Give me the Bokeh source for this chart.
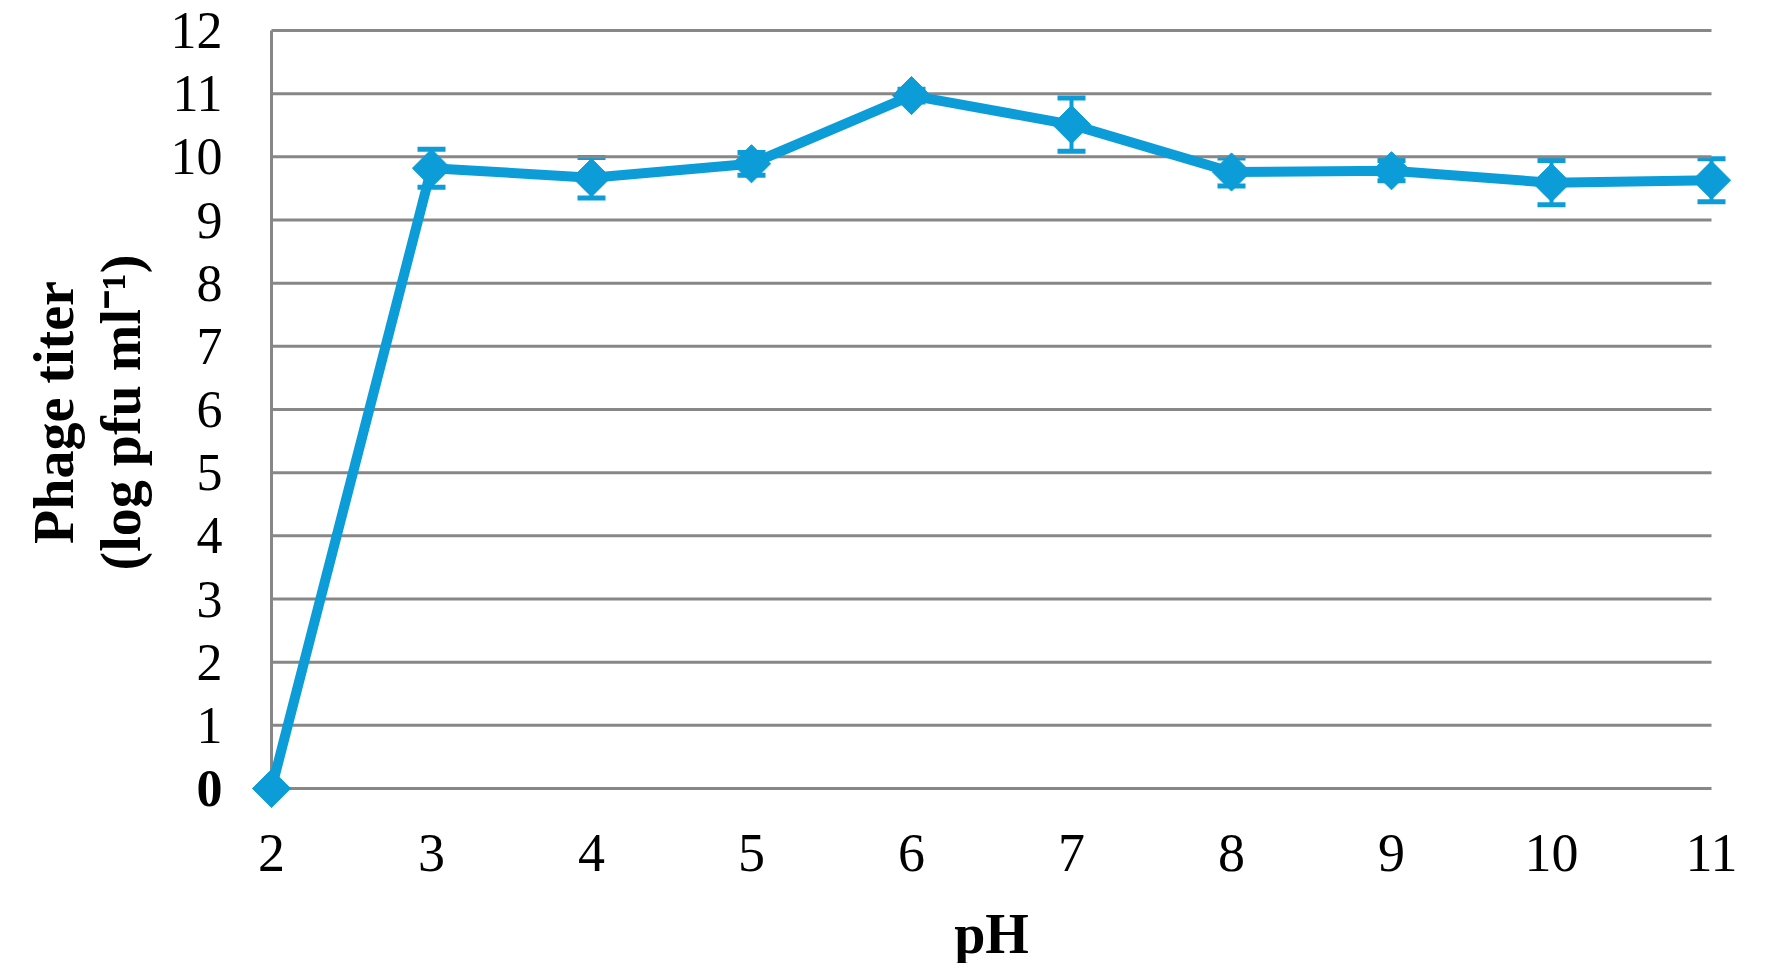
from bokeh.plotting import figure
from bokeh.models import Range1d, ColumnDataSource, Whisker, TeeHead
from bokeh.core.properties import value
from bokeh.embed import file_html
from bokeh.resources import INLINE
import numpy as np

# ---- data ----
ph = [2, 3, 4, 5, 6, 7, 8, 9, 10, 11]
titer = [0.0, 9.82, 9.67, 9.89, 10.97, 10.51, 9.76, 9.78, 9.59, 9.63]
err = [0.0, 0.30, 0.32, 0.18, 0.10, 0.42, 0.22, 0.16, 0.35, 0.34]
y_ticks = list(range(0, 13))
y_tick_labels = [str(v) for v in y_ticks]
x_ticks = ph
x_tick_labels = [str(v) for v in x_ticks]
x_title = "pH"
y_title_1 = "Phage titer"
y_title_2 = "(log pfu ml\u207b\u00b9)"

BLUE = "#0C9DD8"
GRID = "#878787"
FONT = "Liberation Serif"

src = ColumnDataSource(dict(
    x=ph, y=titer,
    upper=[t + e for t, e in zip(titer, err)],
    lower=[t - e for t, e in zip(titer, err)],
))

# frame covers the whole figure; x=2 -> 271px, x=11 -> 1711px, y=12 -> 30px, y=0 -> 788px
W, H = 1756, 963
px_x = (1711 - 271) / (max(ph) - min(ph))
px_y = (788 - 30) / (max(y_ticks) - min(y_ticks))
x_range = Range1d(min(ph) - 271 / px_x, max(ph) + (W - 1711) / px_x)
y_range = Range1d(min(y_ticks) - (H - 788) / px_y, max(y_ticks) + 30 / px_y)

p = figure(width=W, height=H, x_range=x_range, y_range=y_range,
           output_backend="svg", toolbar_location=None,
           x_axis_location=None, y_axis_location=None, min_border=0)
p.outline_line_color = None
p.grid.visible = False
p.background_fill_color = "white"

# grid lines (only across the data span)
p.segment(x0=[min(ph)] * len(y_ticks), y0=y_ticks, x1=[max(ph)] * len(y_ticks), y1=y_ticks,
          line_color=GRID, line_width=3)
# vertical axis line
p.segment(x0=[min(ph)], y0=[min(y_ticks)], x1=[min(ph)], y1=[max(y_ticks)],
          line_color=GRID, line_width=3)

# y tick labels (0 is bold in the original)
p.text(x=[min(ph)] * (len(y_ticks) - 1), y=y_ticks[1:], text=y_tick_labels[1:],
       x_offset=-49, text_align="right", text_baseline="middle",
       text_font=value(FONT), text_font_size="52px", text_color="black")
p.text(x=[min(ph)], y=y_ticks[:1], text=y_tick_labels[:1],
       x_offset=-49, text_align="right", text_baseline="middle",
       text_font=value(FONT), text_font_size="52px", text_font_style="bold",
       text_color="black")

# x tick labels
p.text(x=x_ticks, y=[min(y_ticks)] * len(x_ticks), text=x_tick_labels,
       y_offset=64, text_align="center", text_baseline="middle",
       text_font=value(FONT), text_font_size="54px", text_color="black")

# axis titles
p.text(x=[(min(ph) + max(ph)) / 2], y=[min(y_ticks)], text=[x_title],
       y_offset=145, text_align="center", text_baseline="middle",
       text_font=value(FONT), text_font_size="56px", text_font_style="bold",
       text_color="black")
ymid = (min(y_ticks) + max(y_ticks)) / 2
p.text(x=[min(ph)], y=[ymid], text=[y_title_1], angle=np.pi / 2,
       x_offset=-218, y_offset=3, text_align="center", text_baseline="middle",
       text_font=value(FONT), text_font_size="56px", text_font_style="bold",
       text_color="black")
p.text(x=[min(ph)], y=[ymid], text=[y_title_2], angle=np.pi / 2,
       x_offset=-151, y_offset=3, text_align="center", text_baseline="middle",
       text_font=value(FONT), text_font_size="56px", text_font_style="bold",
       text_color="black")

# error bars
wh = Whisker(source=src, base="x", upper="upper", lower="lower",
             line_color=BLUE, line_width=4,
             upper_head=TeeHead(size=28, line_color=BLUE, line_width=5),
             lower_head=TeeHead(size=28, line_color=BLUE, line_width=5))
p.add_layout(wh)

p.line("x", "y", source=src, line_color=BLUE, line_width=10)
p.scatter("x", "y", source=src, marker="square", angle=np.pi / 4, size=27,
          fill_color=BLUE, line_color=BLUE)

open("out.html", "w").write(file_html(p, INLINE))
